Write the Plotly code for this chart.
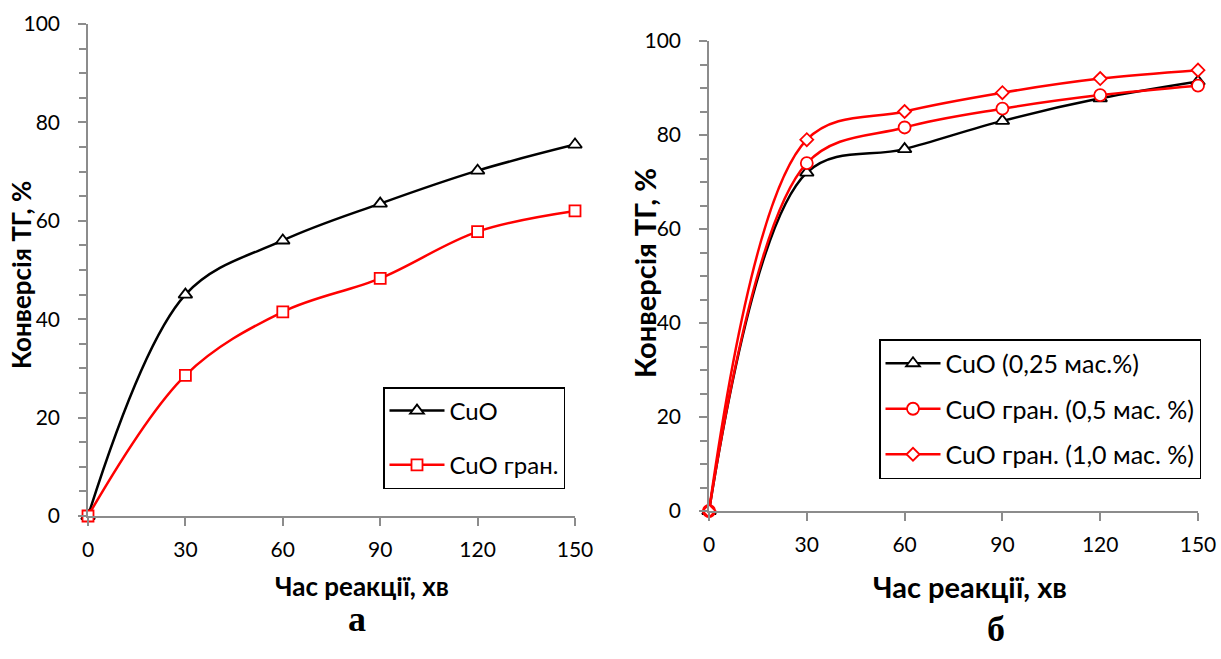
import plotly.graph_objects as go

# ---- data ----
time_min = [0, 30, 60, 90, 120, 150]

# panel a
a_cuo = [0, 45.0, 56.0, 63.5, 70.2, 75.5]
a_cuo_gran = [0, 28.6, 41.5, 48.3, 57.8, 62.0]

# panel б
b_cuo_025 = [0, 72.0, 77.0, 83.0, 87.8, 91.4]
b_gran_05 = [0, 74.0, 81.6, 85.6, 88.5, 90.5]
b_gran_10 = [0, 79.0, 85.0, 89.0, 92.0, 93.8]

x_ticks = [0, 30, 60, 90, 120, 150]
y_ticks = [0, 20, 40, 60, 80, 100]

labels_a = ["CuO", "CuO гран."]
labels_b = ["CuO (0,25 мас.%)", "CuO гран. (0,5 мас. %)", "CuO гран. (1,0 мас. %)"]

W, H = 1221, 659
FONT = "Lato"
AXC = "#8c8c8c"

fig = go.Figure()

def add(x, y, name, color, symbol, size, xa, ya, legend, group):
    fig.add_trace(go.Scatter(
        x=x, y=y, name=name, mode="lines+markers",
        line=dict(color=color, width=2.5, shape="spline", smoothing=1.0),
        marker=dict(symbol=symbol, size=size, color="white",
                    line=dict(color=color, width=1.8)),
        xaxis=xa, yaxis=ya, legend=legend, legendgroup=group,
        cliponaxis=False,
    ))

add(time_min, a_cuo, labels_a[0], "black", "triangle-up", 12, "x", "y", "legend", "a1")
add(time_min, a_cuo_gran, labels_a[1], "red", "square", 11, "x", "y", "legend", "a2")
add(time_min, b_cuo_025, labels_b[0], "black", "triangle-up", 12, "x2", "y2", "legend2", "b1")
add(time_min, b_gran_05, labels_b[1], "red", "circle", 12, "x2", "y2", "legend2", "b2")
add(time_min, b_gran_10, labels_b[2], "red", "diamond", 10, "x2", "y2", "legend2", "b3")

def px_x(p):
    return p / W

def px_y(p):
    return 1 - p / H

axis_common = dict(showline=True, linecolor=AXC, linewidth=1.5, showgrid=False,
                   zeroline=False, ticks="outside", ticklen=8, tickwidth=1.5,
                   automargin=False,
                   tickcolor=AXC, tickfont=dict(family=FONT, size=21, color="black"))

minor = dict(dtick=5, ticks="outside", ticklen=7, tickcolor=AXC, tickwidth=1.5)

fig.update_layout(
    template="none",
    width=W, height=H, margin=dict(l=0, r=0, t=0, b=0, autoexpand=False),
    paper_bgcolor="white", plot_bgcolor="white",
    font=dict(family=FONT, color="black"),
    xaxis=dict(domain=[px_x(88), px_x(575)], range=[0, 150], tickvals=x_ticks,
               anchor="y", ticklabelstandoff=6, **axis_common),
    yaxis=dict(domain=[px_y(516), px_y(24)], range=[0, 100], tickvals=y_ticks,
               anchor="x", ticklabelstandoff=14, minor=minor, **axis_common),
    xaxis2=dict(domain=[px_x(709), px_x(1198)], range=[0, 150], tickvals=x_ticks,
                anchor="y2", ticklabelstandoff=6, **axis_common),
    yaxis2=dict(domain=[px_y(511), px_y(41)], range=[0, 100], tickvals=y_ticks,
                anchor="x2", ticklabelstandoff=14, minor=minor, **axis_common),
    legend=dict(x=px_x(383), y=px_y(387), xanchor="left", yanchor="top",
                bordercolor="black", borderwidth=1.5, bgcolor="white",
                font=dict(family=FONT, size=24), itemwidth=55, tracegroupgap=20),
    legend2=dict(x=px_x(879), y=px_y(339), xanchor="left", yanchor="top",
                 bordercolor="black", borderwidth=1.5, bgcolor="white",
                 font=dict(family=FONT, size=25), itemwidth=55, tracegroupgap=10),
    showlegend=True,
)

ann = []
tf_a = dict(family=FONT, size=26, color="black")
tf_b = dict(family=FONT, size=29, color="black")
common = dict(xref="paper", yref="paper", showarrow=False, xanchor="center", yanchor="middle")
ann.append(dict(text="<b>Час реакції, хв</b>", x=px_x(362), y=px_y(586), font=tf_a, **common))
ann.append(dict(text="<b>Час реакції, хв</b>", x=px_x(970), y=px_y(586), font=tf_b, **common))
ann.append(dict(text="<b>Конверсія ТГ, %</b>", x=px_x(21), y=px_y(275), textangle=-90, font=tf_a, **common))
ann.append(dict(text="<b>Конверсія ТГ, %</b>", x=px_x(644), y=px_y(273), textangle=-90, font=tf_b, **common))
ann.append(dict(text="<b>а</b>", x=px_x(357), y=px_y(619),
                font=dict(family="Liberation Serif", size=36, color="black"), **common))
ann.append(dict(text="<b>б</b>", x=px_x(996), y=px_y(629),
                font=dict(family="Liberation Serif", size=36, color="black"), **common))
fig.update_layout(annotations=ann)

fig.write_html("out.html")
